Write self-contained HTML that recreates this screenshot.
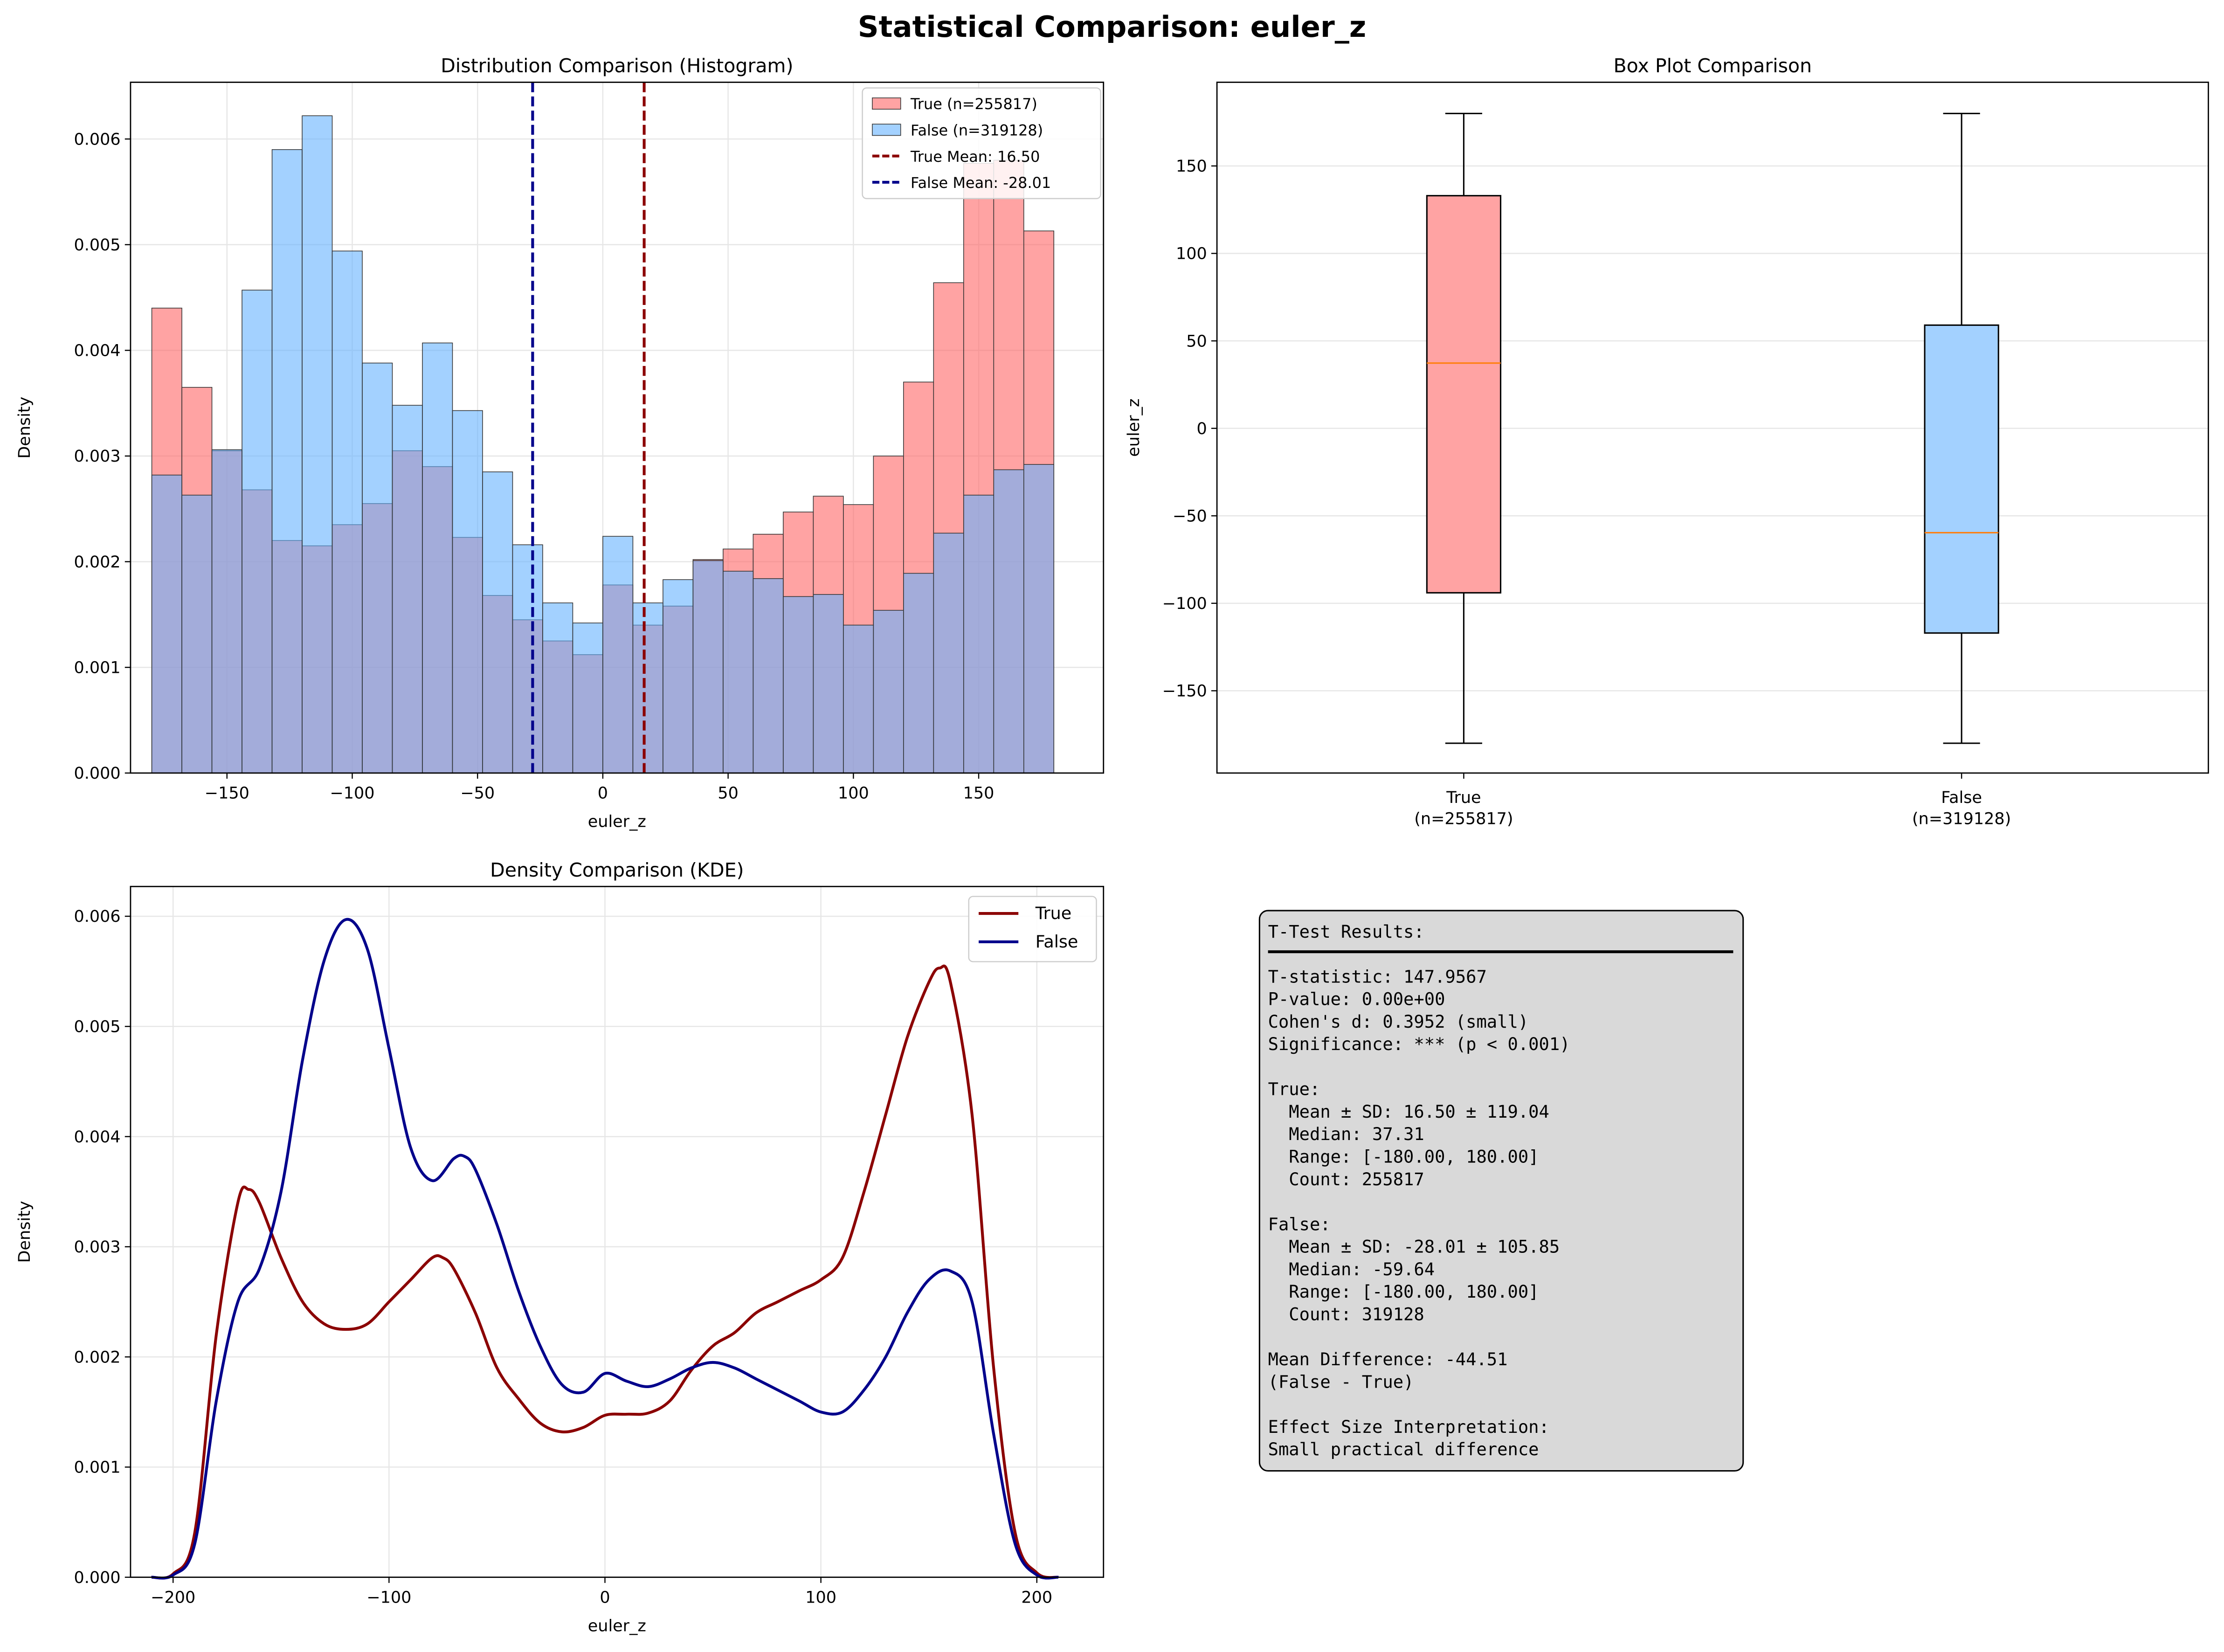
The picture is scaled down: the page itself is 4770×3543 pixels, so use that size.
<!DOCTYPE html>
<html><head><meta charset="utf-8"><style>html,body{margin:0;padding:0;background:#fff}svg{display:block}.s{font-family:"DejaVu Sans","Liberation Sans",sans-serif}.m{font-family:"DejaVu Sans Mono","Liberation Mono",monospace;white-space:pre}</style></head>
<body>
<svg id="fig" xmlns="http://www.w3.org/2000/svg" width="4770" height="3543" viewBox="0 0 1568 1164.7">
<rect width="1568" height="1164.7" fill="#fff"/>
<text class="s" x="784" y="26" text-anchor="middle" font-size="20.5" font-weight="bold">Statistical Comparison: euler_z</text>
<g id="hist"></g>
<g id="box"></g>
<g id="kde"></g>
<g id="stats"></g>
</svg>
<script>
// ---- histogram data ----
const histEdgesStart = -180, histBinWidth = 12;
const histTrue = [0.0044,0.00365,0.00305,0.00268,0.0022,0.00215,0.00235,0.00255,0.00305,0.0029,0.00223,0.00168,0.00145,0.00125,0.00112,0.00178,0.0014,0.00158,0.00202,0.00212,0.00226,0.00247,0.00262,0.00254,0.003,0.0037,0.00464,0.00577,0.0058,0.00513];
const histFalse = [0.00282,0.00263,0.00306,0.00457,0.0059,0.00622,0.00494,0.00388,0.00348,0.00407,0.00343,0.00285,0.00216,0.00161,0.00142,0.00224,0.00161,0.00183,0.00201,0.00191,0.00184,0.00167,0.00169,0.0014,0.00154,0.00189,0.00227,0.00263,0.00287,0.00292];
const meanTrue = 16.50, meanFalse = -28.01;
const histXTicks = [-150,-100,-50,0,50,100,150];
const histYTicks = [0,0.001,0.002,0.003,0.004,0.005,0.006];
// ---- box data ----
const boxLabels = ["True","False"];
const boxN = ["(n=255817)","(n=319128)"];
const boxQ1 = [-94,-117], boxQ3 = [133,59], boxMed = [37.31,-59.64], boxMin = [-180,-180], boxMax = [180,180];
const boxYTicks = [-150,-100,-50,0,50,100,150];
// ---- KDE data ----
const kdeTrueX = [-210,-200,-190,-180,-170,-165,-160,-150,-140,-130,-120,-110,-100,-90,-80,-75,-70,-60,-50,-40,-30,-20,-10,0,10,20,30,40,50,60,70,80,90,100,110,120,130,140,150,155,160,170,180,190,200,210];
const kdeTrueY = [0,0.00003,0.0004,0.0022,0.0034,0.00352,0.0034,0.0029,0.0025,0.0023,0.00225,0.0023,0.0025,0.0027,0.0029,0.0029,0.0028,0.0024,0.0019,0.00162,0.0014,0.00132,0.00136,0.00147,0.00148,0.00149,0.0016,0.00188,0.0021,0.00222,0.0024,0.0025,0.0026,0.0027,0.0029,0.0035,0.0042,0.0049,0.0054,0.00553,0.0054,0.0042,0.0019,0.0004,0.00004,0];
const kdeFalseX = [-210,-200,-190,-180,-170,-160,-150,-140,-130,-120,-110,-100,-90,-80,-70,-65,-60,-50,-40,-30,-20,-10,0,10,20,30,40,50,60,70,80,90,100,110,120,130,140,150,160,170,180,190,200,210];
const kdeFalseY = [0,0.00002,0.0003,0.0016,0.0025,0.0028,0.0035,0.0047,0.0056,0.00597,0.0057,0.0048,0.0039,0.0036,0.0038,0.00382,0.0037,0.0032,0.0026,0.0021,0.00175,0.00168,0.00185,0.00178,0.00173,0.0018,0.0019,0.00195,0.0019,0.0018,0.0017,0.0016,0.0015,0.0015,0.0017,0.002,0.0024,0.0027,0.00278,0.0025,0.0013,0.0003,0.00002,0];
const kdeXTicks = [-200,-100,0,100,200];
const kdeYTicks = [0,0.001,0.002,0.003,0.004,0.005,0.006];

const NS="http://www.w3.org/2000/svg";
function mk(parent,tag,attrs,txt){const e=document.createElementNS(NS,tag);for(const k in attrs)e.setAttribute(k,attrs[k]);if(tag==='text'&&!attrs['class'])e.setAttribute('class','s');if(txt!==undefined)e.textContent=txt;parent.appendChild(e);return e;}
function fmtMinus(v){return String(v).replace('-','\u2212');}
const TF=11.5, LF=11.5, TT=13.5;

// ===== Histogram =====
(function(){
const g=document.getElementById('hist');
const L=92,R=778,T=58,B=545;
const x=v=>425+v*(530/300), y=v=>B-v*74500;
mk(g,'text',{x:(L+R)/2,y:51,'text-anchor':'middle','font-size':TT},'Distribution Comparison (Histogram)');
histYTicks.forEach(t=>{mk(g,'line',{x1:L,x2:R,y1:y(t),y2:y(t),stroke:'#e6e6e6','stroke-width':0.8});});
histXTicks.forEach(t=>{mk(g,'line',{x1:x(t),x2:x(t),y1:T,y2:B,stroke:'#e6e6e6','stroke-width':0.8});});
histTrue.forEach((v,i)=>{const x0=x(histEdgesStart+i*histBinWidth),x1=x(histEdgesStart+(i+1)*histBinWidth);
const r=mk(g,'rect',{x:x0,y:y(v),width:x1-x0,height:B-y(v),fill:'#ff6666','fill-opacity':0.6,stroke:'#333','stroke-width':0.5});

});
histFalse.forEach((v,i)=>{const x0=x(histEdgesStart+i*histBinWidth),x1=x(histEdgesStart+(i+1)*histBinWidth);
const r=mk(g,'rect',{x:x0,y:y(v),width:x1-x0,height:B-y(v),fill:'#66b3ff','fill-opacity':0.6,stroke:'#333','stroke-width':0.5});

});
const m1=mk(g,'line',{x1:x(meanTrue),x2:x(meanTrue),y1:T,y2:B,stroke:'#8b0000','stroke-width':2,'stroke-dasharray':'7,3'});


const m2=mk(g,'line',{x1:x(meanFalse),x2:x(meanFalse),y1:T,y2:B,stroke:'#00008b','stroke-width':2,'stroke-dasharray':'7,3'});


mk(g,'rect',{x:L,y:T,width:R-L,height:B-T,fill:'none',stroke:'#000','stroke-width':0.9});
histXTicks.forEach(t=>{mk(g,'line',{x1:x(t),x2:x(t),y1:B,y2:B+4,stroke:'#000','stroke-width':0.8});mk(g,'text',{x:x(t),y:B+18,'text-anchor':'middle','font-size':TF},fmtMinus(t));});
histYTicks.forEach(t=>{mk(g,'line',{x1:L-4,x2:L,y1:y(t),y2:y(t),stroke:'#000','stroke-width':0.8});mk(g,'text',{x:L-7,y:y(t)+4,'text-anchor':'end','font-size':TF},t.toFixed(3));});
mk(g,'text',{x:(L+R)/2,y:583,'text-anchor':'middle','font-size':LF},'euler_z');
mk(g,'text',{x:0,y:0,'text-anchor':'middle','font-size':LF,transform:`translate(21,${(T+B)/2}) rotate(-90)`},'Density');
const lg=mk(g,'g',{});
mk(lg,'rect',{x:608,y:62,width:168,height:78,rx:3,fill:'#fff','fill-opacity':0.85,stroke:'#ccc','stroke-width':0.8});
const items=[['rect','#ff6666','True (n=255817)'],['rect','#66b3ff','False (n=319128)'],['line','#8b0000','True Mean: 16.50'],['line','#00008b','False Mean: -28.01']];
items.forEach((it,i)=>{const yy=73+i*18.5;
if(it[0]==='rect')mk(lg,'rect',{x:615,y:yy-4,width:20,height:8,fill:it[1],'fill-opacity':0.6,stroke:'#333','stroke-width':0.5});
else mk(lg,'line',{x1:615,x2:635,y1:yy,y2:yy,stroke:it[1],'stroke-width':2,'stroke-dasharray':'5,2'});
mk(lg,'text',{x:642,y:yy+4,'font-size':10.5},it[2]);});
})();

// ===== Box plot =====
(function(){
const g=document.getElementById('box');
const L=858,R=1557,T=58,B=545;
const y=v=>302-v*(370/300);
const xs=[1032,1383];
mk(g,'text',{x:(L+R)/2,y:51,'text-anchor':'middle','font-size':TT},'Box Plot Comparison');
boxYTicks.forEach(t=>{mk(g,'line',{x1:L,x2:R,y1:y(t),y2:y(t),stroke:'#e6e6e6','stroke-width':0.8});});
const fills=['#ffa3a3','#a3d1ff'];
boxLabels.forEach((lab,i)=>{const xx=xs[i],hw=26,cw=13;
const bg=mk(g,'g',{});


mk(bg,'line',{x1:xx,x2:xx,y1:y(boxQ1[i]),y2:y(boxMin[i]),stroke:'#000','stroke-width':1});
mk(bg,'line',{x1:xx,x2:xx,y1:y(boxQ3[i]),y2:y(boxMax[i]),stroke:'#000','stroke-width':1});
mk(bg,'line',{x1:xx-cw,x2:xx+cw,y1:y(boxMin[i]),y2:y(boxMin[i]),stroke:'#000','stroke-width':1});
mk(bg,'line',{x1:xx-cw,x2:xx+cw,y1:y(boxMax[i]),y2:y(boxMax[i]),stroke:'#000','stroke-width':1});
mk(bg,'rect',{x:xx-hw,y:y(boxQ3[i]),width:2*hw,height:y(boxQ1[i])-y(boxQ3[i]),fill:fills[i],stroke:'#000','stroke-width':1});
mk(bg,'line',{x1:xx-hw,x2:xx+hw,y1:y(boxMed[i]),y2:y(boxMed[i]),stroke:'#ff7f0e','stroke-width':1});
mk(g,'line',{x1:xx,x2:xx,y1:B,y2:B+4,stroke:'#000','stroke-width':0.8});
mk(g,'text',{x:xx,y:B+21,'text-anchor':'middle','font-size':TF},lab);
mk(g,'text',{x:xx,y:B+36,'text-anchor':'middle','font-size':TF},boxN[i]);});
mk(g,'rect',{x:L,y:T,width:R-L,height:B-T,fill:'none',stroke:'#000','stroke-width':0.9});
boxYTicks.forEach(t=>{mk(g,'line',{x1:L-4,x2:L,y1:y(t),y2:y(t),stroke:'#000','stroke-width':0.8});mk(g,'text',{x:L-7,y:y(t)+4,'text-anchor':'end','font-size':TF},fmtMinus(t));});
mk(g,'text',{x:0,y:0,'text-anchor':'middle','font-size':LF,transform:`translate(803,${(T+B)/2}) rotate(-90)`},'euler_z');
})();

// ===== KDE =====
(function(){
const g=document.getElementById('kde');
const L=92,R=778,T=625,B=1112;
const x=v=>426.5+v*1.5225, y=v=>B-v*77670;
mk(g,'text',{x:(L+R)/2,y:618,'text-anchor':'middle','font-size':TT},'Density Comparison (KDE)');
kdeYTicks.forEach(t=>mk(g,'line',{x1:L,x2:R,y1:y(t),y2:y(t),stroke:'#e6e6e6','stroke-width':0.8}));
kdeXTicks.forEach(t=>mk(g,'line',{x1:x(t),x2:x(t),y1:T,y2:B,stroke:'#e6e6e6','stroke-width':0.8}));
function path(xa,ya){const p=xa.map((v,i)=>[x(v),y(ya[i])]);let d=`M${p[0][0]},${p[0][1]}`;
for(let i=0;i<p.length-1;i++){const p0=p[Math.max(0,i-1)],p1=p[i],p2=p[i+1],p3=p[Math.min(p.length-1,i+2)];
const c1=[p1[0]+(p2[0]-p0[0])/6,p1[1]+(p2[1]-p0[1])/6],c2=[p2[0]-(p3[0]-p1[0])/6,p2[1]-(p3[1]-p1[1])/6];
d+=` C${c1[0]},${c1[1]} ${c2[0]},${c2[1]} ${p2[0]},${p2[1]}`;}return d;}
const pt=mk(g,'path',{d:path(kdeTrueX,kdeTrueY),fill:'none',stroke:'#8b0000','stroke-width':2});


const pf=mk(g,'path',{d:path(kdeFalseX,kdeFalseY),fill:'none',stroke:'#00008b','stroke-width':2});


mk(g,'rect',{x:L,y:T,width:R-L,height:B-T,fill:'none',stroke:'#000','stroke-width':0.9});
kdeXTicks.forEach(t=>{mk(g,'line',{x1:x(t),x2:x(t),y1:B,y2:B+4,stroke:'#000','stroke-width':0.8});mk(g,'text',{x:x(t),y:B+18,'text-anchor':'middle','font-size':TF},fmtMinus(t));});
kdeYTicks.forEach(t=>{mk(g,'line',{x1:L-4,x2:L,y1:y(t),y2:y(t),stroke:'#000','stroke-width':0.8});mk(g,'text',{x:L-7,y:y(t)+4,'text-anchor':'end','font-size':TF},t.toFixed(3));});
mk(g,'text',{x:(L+R)/2,y:1150,'text-anchor':'middle','font-size':LF},'euler_z');
mk(g,'text',{x:0,y:0,'text-anchor':'middle','font-size':LF,transform:`translate(21,${(T+B)/2}) rotate(-90)`},'Density');
const lg=mk(g,'g',{});
mk(lg,'rect',{x:683,y:632,width:90,height:46,rx:3,fill:'#fff','fill-opacity':0.85,stroke:'#ccc','stroke-width':0.8});
mk(lg,'line',{x1:690,x2:718,y1:644,y2:644,stroke:'#8b0000','stroke-width':2});
mk(lg,'text',{x:730,y:648,'font-size':12},'True');
mk(lg,'line',{x1:690,x2:718,y1:664,y2:664,stroke:'#00008b','stroke-width':2});
mk(lg,'text',{x:730,y:668,'font-size':12},'False');
})();

// ===== Stats box =====
(function(){
const g=document.getElementById('stats');
mk(g,'rect',{x:888,y:642,width:341,height:395,rx:6,fill:'#d9d9d9',stroke:'#000','stroke-width':1});
const lines=["T-Test Results:","","T-statistic: 147.9567","P-value: 0.00e+00","Cohen's d: 0.3952 (small)","Significance: *** (p < 0.001)","","True:","  Mean ± SD: 16.50 ± 119.04","  Median: 37.31","  Range: [-180.00, 180.00]","  Count: 255817","","False:","  Mean ± SD: -28.01 ± 105.85","  Median: -59.64","  Range: [-180.00, 180.00]","  Count: 319128","","Mean Difference: -44.51","(False - True)","","Effect Size Interpretation:","Small practical difference"];
lines.forEach((l,i)=>{if(l)mk(g,'text',{'class':'m',x:894,y:661+i*15.87,'font-size':12.2},l);});
mk(g,'line',{x1:894,x2:1222,y1:671,y2:671,stroke:'#000','stroke-width':2});
})();
</script>
</body></html>
